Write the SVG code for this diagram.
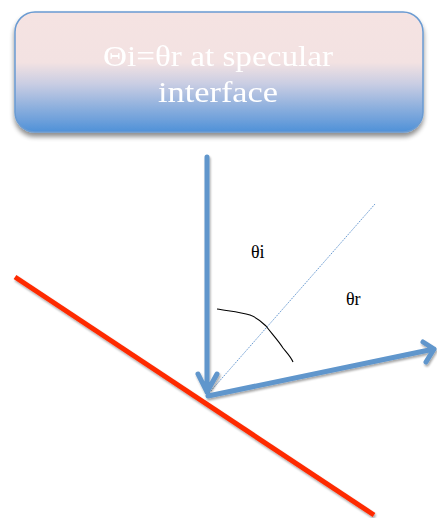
<svg xmlns="http://www.w3.org/2000/svg" width="437" height="518" viewBox="0 0 437 518">
<defs>
<linearGradient id="g" x1="0" y1="0" x2="0" y2="1">
<stop offset="0" stop-color="#f5e3e2"/>
<stop offset="0.42" stop-color="#f3e2e2"/>
<stop offset="0.6" stop-color="#c9cde3"/>
<stop offset="1" stop-color="#4f91d8"/>
</linearGradient>
<filter id="sh" x="-10%" y="-10%" width="120%" height="130%">
<feGaussianBlur in="SourceAlpha" stdDeviation="2.5"/>
<feOffset dx="0" dy="4" result="b"/>
<feComponentTransfer><feFuncA type="linear" slope="0.45"/></feComponentTransfer>
<feMerge><feMergeNode/><feMergeNode in="SourceGraphic"/></feMerge>
</filter>
<filter id="ls" x="-10%" y="-10%" width="120%" height="120%">
<feGaussianBlur in="SourceAlpha" stdDeviation="1.2"/>
<feOffset dx="1" dy="2"/>
<feComponentTransfer><feFuncA type="linear" slope="0.35"/></feComponentTransfer>
<feMerge><feMergeNode/><feMergeNode in="SourceGraphic"/></feMerge>
</filter>
</defs>
<style>
.t{font-family:"Liberation Serif","DejaVu Serif",serif;}
.box{fill:url(#g);stroke:#6a9bd2;stroke-width:1.5;}
.hd{fill:#ffffff;font-size:29px;text-anchor:middle;}
.lb{fill:#000000;font-size:18px;}
.ray{fill:none;stroke:#6096cc;stroke-width:5;stroke-linecap:round;stroke-linejoin:round;}
</style>
<g id="title" filter="url(#sh)">
<rect class="box" x="15" y="12" width="408" height="120" rx="20"/>
<text class="t hd" x="218" y="66" textLength="230" lengthAdjust="spacingAndGlyphs">Θi=θr at specular</text>
<text class="t hd" x="218" y="102" textLength="120" lengthAdjust="spacingAndGlyphs">interface</text>
</g>
<g id="interface">
<line x1="15" y1="277" x2="374" y2="515" stroke="#fe2a05" stroke-width="5" filter="url(#ls)"/>
</g>
<g id="connectors">
<line x1="209" y1="393" x2="375" y2="204" stroke="#6a9bd2" stroke-width="1" stroke-dasharray="1.5,1"/>
<g filter="url(#ls)">
<path class="ray" d="M207 157 L207 392 M198 374 L207 392 L217 374"/>
<path class="ray" d="M208 396 L434 349 M423 342 L434 349 L426 362"/>
</g>
<path d="M217 309 C228 311 240 312 250 315 C258 318 262 322 266 326 C272 334 278 340 283 348 C288 354 291 357 293 362" fill="none" stroke="#000" stroke-width="1.1"/>
</g>
<g id="labels">
<text class="t lb" x="251" y="258">θi</text>
<text class="t lb" x="346" y="305">θr</text>
</g>
</svg>
